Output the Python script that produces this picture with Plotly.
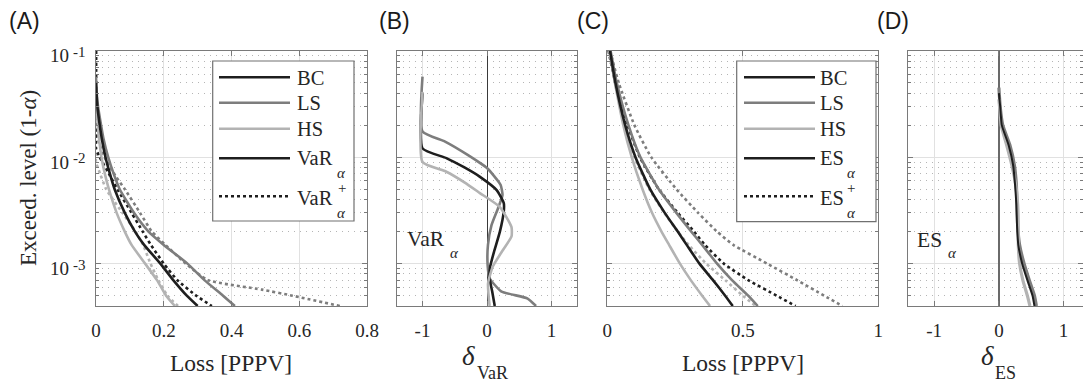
import numpy as np
import plotly.graph_objects as go

# ---------------- data ----------------
# Panel A: VaR (solid) and VaR+ (dotted) vs exceedance level
A_BC_Y = [0.05, 0.03, 0.02, 0.015, 0.01, 0.007, 0.005, 0.003, 0.002, 0.0015, 0.001, 0.0007, 0.0005, 0.0004]
A_BC_X = [0.0, 0.004, 0.011, 0.017, 0.028, 0.041, 0.055, 0.085, 0.115, 0.142, 0.19, 0.228, 0.268, 0.30]
A_BCp_Y = [0.1, 0.05, 0.03, 0.02, 0.012, 0.01, 0.007, 0.005, 0.003, 0.002, 0.0015, 0.001, 0.0007, 0.0005, 0.0004]
A_BCp_X = [0.0, 0.0, 0.0, 0.0, 0.0, 0.011, 0.038, 0.063, 0.105, 0.138, 0.162, 0.2, 0.24, 0.296, 0.342]
A_LS_Y = [0.057, 0.04, 0.03, 0.02, 0.015, 0.01, 0.007, 0.005, 0.003, 0.002, 0.0015, 0.001, 0.0007, 0.0005, 0.0004]
A_LS_X = [0.0, 0.002, 0.006, 0.015, 0.022, 0.036, 0.052, 0.07, 0.112, 0.155, 0.2, 0.27, 0.32, 0.375, 0.41]
A_LSp_Y = [0.1, 0.05, 0.03, 0.02, 0.017, 0.0135, 0.01, 0.008, 0.0065, 0.005, 0.003, 0.002, 0.0015, 0.001, 0.0007, 0.00057, 0.0005, 0.0004]
A_LSp_X = [0.0, 0.0, 0.0, 0.0, 0.0, 0.009, 0.025, 0.042, 0.06, 0.085, 0.13, 0.165, 0.205, 0.265, 0.33, 0.49, 0.58, 0.72]
A_HS_Y = [0.038, 0.03, 0.02, 0.015, 0.01, 0.007, 0.005, 0.003, 0.002, 0.0015, 0.001, 0.0007, 0.0005, 0.0004]
A_HS_X = [0.0, 0.002, 0.005, 0.009, 0.016, 0.026, 0.038, 0.061, 0.085, 0.105, 0.145, 0.18, 0.207, 0.233]
A_HSp_Y = [0.1, 0.05, 0.03, 0.02, 0.012, 0.009, 0.007, 0.005, 0.003, 0.002, 0.0015, 0.001, 0.0007, 0.0005, 0.0004]
A_HSp_X = [0.0, 0.0, 0.0, 0.0, 0.0, 0.0, 0.012, 0.03, 0.078, 0.117, 0.139, 0.161, 0.184, 0.211, 0.242]

# Panel B: delta VaR
B_LS_Y = [0.057, 0.0174, 0.014, 0.0105, 0.0079, 0.0055, 0.0044, 0.0033, 0.0023, 0.0015, 0.00097, 0.00073, 0.00055, 0.00047, 0.0004]
B_LS_D = [-1, -1, -0.65, -0.3, 0.0, 0.21, 0.24, 0.17, 0.07, 0.015, 0.01, 0.04, 0.22, 0.63, 0.76]
B_BC_Y = [0.04, 0.0121, 0.0098, 0.008, 0.0066, 0.0049, 0.0037, 0.0031, 0.002, 0.0013, 0.00094, 0.00073, 0.00055, 0.0004]
B_BC_D = [-1, -1, -0.63, -0.35, -0.12, 0.15, 0.26, 0.26, 0.2, 0.11, 0.05, 0.04, 0.08, 0.12]
B_HS_Y = [0.041, 0.009, 0.0073, 0.0058, 0.0046, 0.0034, 0.0022, 0.0018, 0.00135, 0.00094, 0.00065, 0.0004]
B_HS_D = [-1, -1, -0.63, -0.35, -0.11, 0.2, 0.38, 0.38, 0.25, 0.09, 0.016, 0.04]

# Panel C: ES (solid) and ES+ (dotted)
C_Y = [0.1, 0.05, 0.02, 0.01, 0.005, 0.003, 0.002, 0.0015, 0.001, 0.0007, 0.0005, 0.0004]
C_HS = [0.007, 0.028, 0.059, 0.09, 0.13, 0.165, 0.2, 0.228, 0.268, 0.308, 0.35, 0.379]
C_BC = [0.01, 0.03, 0.066, 0.104, 0.158, 0.212, 0.26, 0.293, 0.34, 0.39, 0.435, 0.463]
C_LS = [0.012, 0.035, 0.078, 0.122, 0.19, 0.255, 0.31, 0.35, 0.405, 0.46, 0.52, 0.555]
C_BCp = [0.004, 0.03, 0.075, 0.12, 0.19, 0.26, 0.32, 0.36, 0.43, 0.52, 0.625, 0.695]
C_LSp = [0.01, 0.042, 0.1, 0.162, 0.255, 0.335, 0.405, 0.465, 0.59, 0.7, 0.8, 0.868]
C_HSp = [0.006, 0.028, 0.064, 0.1, 0.155, 0.21, 0.26, 0.3, 0.365, 0.435, 0.5, 0.548]

# Panel D: delta ES
D_Y_LS = [0.045, 0.03, 0.02, 0.013, 0.0084, 0.0055, 0.0036, 0.0023, 0.0015, 0.001, 0.0007, 0.0005, 0.0004]
D_LS = [0.0, 0.02, 0.06, 0.17, 0.24, 0.27, 0.28, 0.29, 0.32, 0.39, 0.47, 0.55, 0.58]
D_Y_BC = [0.04, 0.03, 0.02, 0.013, 0.0084, 0.0055, 0.0036, 0.0023, 0.0015, 0.001, 0.0007, 0.0005, 0.0004]
D_BC = [0.0, 0.02, 0.045, 0.15, 0.22, 0.25, 0.27, 0.28, 0.30, 0.36, 0.44, 0.52, 0.55]
D_Y_HS = [0.035, 0.03, 0.02, 0.013, 0.0084, 0.0055, 0.0036, 0.0023, 0.0015, 0.001, 0.0007, 0.0005, 0.0004]
D_HS = [0.0, 0.01, 0.035, 0.12, 0.2, 0.26, 0.29, 0.30, 0.30, 0.32, 0.37, 0.44, 0.48]

Y_TICKS = [1e-3, 1e-2, 1e-1]
Y_TICKBASE = ["10", "10", "10"]
Y_TICKEXP = ["-3", "-2", "-1"]
Y_MINOR = [m * 10.0 ** e for e in (-4, -3, -2) for m in range(2, 10) if m * 10.0 ** e >= 4e-4]
A_XTICKS = [0, 0.2, 0.4, 0.6, 0.8]
A_XTEXT = ["0", "0.2", "0.4", "0.6", "0.8"]
C_XTICKS = [0, 0.5, 1]
C_XTEXT = ["0", "0.5", "1"]
D_XTICKS = [-1, 0, 1]
D_XTEXT = ["-1", "0", "1"]

# ---------------- styling ----------------
W, H = 1083, 388
BLACK, GRAY, LIGHT = "#1e1e1e", "#7d7d7d", "#b3b3b3"
AX = "#7a7a7a"
GRID = "#e1e1e1"
DOTC = "#b5b5b5"
TXT = "#262626"
SERIF = "Liberation Serif"
LW = 2.6


def fx(px):
    return px / W


def fy(py):
    return 1 - py / H


Y_TOP, Y_BOT = 50.7, 306.0
ydom = [fy(Y_BOT), fy(Y_TOP)]
doms = {
    "A": [fx(96), fx(367)],
    "B": [fx(396.7), fx(577.3)],
    "C": [fx(607.3), fx(878.3)],
    "D": [fx(908.3), 1.0],
}

fig = go.Figure()


def add(x, y, color, dash, ax, width=LW):
    fig.add_trace(go.Scatter(x=x, y=y, mode="lines", xaxis=ax[0], yaxis=ax[1],
                             line=dict(color=color, width=width, dash=dash, shape="spline", smoothing=0.5),
                             showlegend=False, hoverinfo="skip"))


axA, axB, axC, axD = ("x", "y"), ("x2", "y2"), ("x3", "y3"), ("x4", "y4")
# Panel A
add(A_LSp_X, A_LSp_Y, GRAY, "dot", axA)
add(A_HSp_X, A_HSp_Y, LIGHT, "dot", axA)
add(A_BCp_X, A_BCp_Y, BLACK, "dot", axA)
add(A_LS_X, A_LS_Y, GRAY, "solid", axA)
add(A_HS_X, A_HS_Y, LIGHT, "solid", axA)
add(A_BC_X, A_BC_Y, BLACK, "solid", axA)
# Panel B
add(B_LS_D, B_LS_Y, GRAY, "solid", axB)
add(B_BC_D, B_BC_Y, BLACK, "solid", axB)
add(B_HS_D, B_HS_Y, LIGHT, "solid", axB)
# Panel C
add(C_LSp, C_Y, GRAY, "dot", axC)
add(C_HSp, C_Y, LIGHT, "dot", axC)
add(C_BCp, C_Y, BLACK, "dot", axC)
add(C_LS, C_Y, GRAY, "solid", axC)
add(C_HS, C_Y, LIGHT, "solid", axC)
add(C_BC, C_Y, BLACK, "solid", axC)
# Panel D
add(D_LS, D_Y_LS, GRAY, "solid", axD, 3.2)
add(D_HS, D_Y_HS, LIGHT, "solid", axD, 3.2)
add(D_BC, D_Y_BC, BLACK, "solid", axD, 2.0)

tickfont = dict(family=SERIF, size=19, color=TXT)


def yaxis(anchor, labels):
    return dict(type="log", range=[np.log10(4e-4), -1], domain=ydom, anchor=anchor, automargin=False,
                showline=True, linecolor=AX, linewidth=1.3, mirror="ticks",
                ticks="inside", ticklen=5, tickcolor=AX, tickwidth=1,
                tickvals=Y_TICKS, ticktext=Y_TICKBASE, showticklabels=labels,
                tickfont=tickfont, ticklabelstandoff=22, ticklabelshift=5,
                showgrid=True, gridcolor=GRID, gridwidth=1, zeroline=False,
                minor=dict(tickmode="array", tickvals=Y_MINOR, ticks="inside", ticklen=3,
                           tickcolor=AX, showgrid=True, gridcolor=DOTC, griddash="1px,5px", gridwidth=1),
                fixedrange=True)


def xaxis(anchor, dom, rng, tv, tt, zero=False, zc=None, zw=1):
    d = dict(domain=dom, anchor=anchor, range=rng, automargin=False, showline=True, linecolor=AX, linewidth=1.3,
             mirror="ticks", ticks="inside", ticklen=5, tickcolor=AX, tickwidth=1,
             tickvals=tv, ticktext=tt, tickfont=tickfont, ticklabelstandoff=7,
             showgrid=True, gridcolor=GRID, gridwidth=1, fixedrange=True,
             zeroline=zero)
    if zero:
        d.update(zerolinecolor=zc, zerolinewidth=zw)
    return d


shapes = []
annotations = []


def ann(text, px, py, size, xanchor="center", yanchor="middle", family=SERIF, angle=0, color=TXT, style="normal"):
    annotations.append(dict(text=text, x=fx(px), y=fy(py), xref="paper", yref="paper",
                            xanchor=xanchor, yanchor=yanchor, showarrow=False, textangle=angle,
                            font=dict(family=family, size=size, color=color, style=style)))


# exponents of the y tick labels, tied to the log axis
for v, e in zip(Y_TICKS, Y_TICKEXP):
    annotations.append(dict(text=e, x=fx(70.5), y=np.log10(v), xref="paper", yref="y",
                            xanchor="left", yanchor="middle", yshift=-1, showarrow=False,
                            font=dict(family=SERIF, size=15, color=TXT)))


def legend(box, x0, x1, tx, last):
    bx0, by0, bx1, by1 = box
    shapes.append(dict(type="rect", xref="paper", yref="paper", x0=fx(bx0), x1=fx(bx1), y0=fy(by1), y1=fy(by0),
                       line=dict(color="#707070", width=1.2), fillcolor="white", layer="above"))
    entries = [(77.3, BLACK, "solid", "BC"), (102.8, GRAY, "solid", "LS"), (128.8, LIGHT, "solid", "HS"),
               (158.3, BLACK, "solid", None), (196.3, BLACK, "dot", None)]
    for py, c, d, t in entries:
        shapes.append(dict(type="line", xref="paper", yref="paper", x0=fx(x0), x1=fx(x1), y0=fy(py), y1=fy(py),
                           line=dict(color=c, width=LW, dash=d), layer="above"))
        if t:
            ann(t, tx, py + 0.5, 20.5, xanchor="left")
    name, subx = last
    ann(name, tx, 158.3, 20.5, xanchor="left")
    ann("α", subx, 173, 15, style="italic")
    ann(name, tx, 197.5, 20.5, xanchor="left")
    ann("+", subx, 188, 15)
    ann("α", subx, 212.5, 15, style="italic")


legend((212.7, 61, 354, 221), 219, 290, 294.5, ("VaR", 341.5))
legend((736.7, 61, 876, 221.7), 744, 815, 817.5, ("ES", 851))

# panel labels
for lab, px in (("(A)", 6.5), ("(B)", 376.5), ("(C)", 574.5), ("(D)", 875)):
    ann(lab, px, 21, 23, xanchor="left", family="Liberation Sans", color="#1a1a1a")

# axis titles
ann("Exceed. level (1-<i>α</i>)", 29, 178, 23, angle=-90)
ann("Loss [PPPV]", 231, 363, 23.5)
ann("Loss [PPPV]", 742.5, 363, 23.5)
ann("δ", 469, 356, 27, style="italic")
ann("VaR", 492.5, 373, 18)
ann("δ", 987.5, 356, 27, style="italic")
ann("ES", 1005, 373, 18)

# in-panel labels
ann("VaR", 405, 239, 21.5, xanchor="left")
ann("α", 454, 253, 15, style="italic")
ann("ES", 914.5, 240, 21.5, xanchor="left")
ann("α", 952, 253, 15, style="italic")

fig.update_layout(
    width=W, height=H, margin=dict(l=0, r=0, t=0, b=0, pad=0, autoexpand=False),
    paper_bgcolor="white", plot_bgcolor="white", showlegend=False,
    xaxis=xaxis("y", doms["A"], [0, 0.8], A_XTICKS, A_XTEXT),
    yaxis=yaxis("x", True),
    xaxis2=xaxis("y2", doms["B"], [-1.4, 1.4], D_XTICKS, D_XTEXT, True, "#3a3a3a", 1),
    yaxis2=yaxis("x2", False),
    xaxis3=xaxis("y3", doms["C"], [0, 1], C_XTICKS, C_XTEXT),
    yaxis3=yaxis("x3", False),
    xaxis4=xaxis("y4", doms["D"], [-1.4, 1.3], D_XTICKS, D_XTEXT, True, "#6a6a6a", 2),
    yaxis4=yaxis("x4", False),
    shapes=shapes, annotations=annotations,
)

fig.write_html("out.html")
